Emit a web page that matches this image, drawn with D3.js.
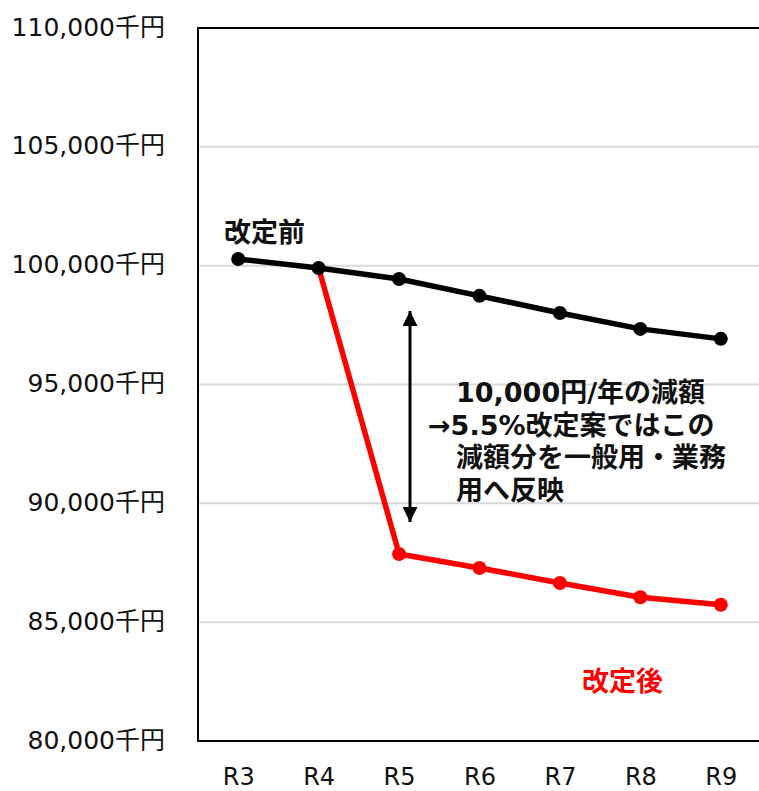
<!DOCTYPE html>
<html>
<head>
<meta charset="utf-8">
<script src="https://cdn.jsdelivr.net/npm/d3@7"></script>
<style>
  html, body { margin: 0; padding: 0; background: #ffffff; }
  svg { display: block; }
  text { font-family: "DejaVu Sans", "Noto Sans CJK JP", sans-serif; }
</style>
</head>
<body>
<svg id="chart" width="759" height="791"></svg>
<script>
// Fiscal years (Reiwa)
const years = ["R3", "R4", "R5", "R6", "R7", "R8", "R9"];
// Revenue before the revision (thousand yen)
const beforeValues = [100280, 99900, 99440, 98730, 98010, 97340, 96920];
// Revenue after the revision (thousand yen); starts from R4
const afterYears = ["R4", "R5", "R6", "R7", "R8", "R9"];
const afterValues = [99900, 87870, 87280, 86650, 86050, 85730];
// Y axis ticks
const yTicks = [80000, 85000, 90000, 95000, 100000, 105000, 110000];
const yUnit = "千円";
// Annotation
const noteLines = ["10,000円/年の減額", "→5.5%改定案ではこの", "減額分を一般用・業務", "用へ反映"];
const labelBefore = "改定前";
const labelAfter = "改定後";

const svg = d3.select("#chart");
const plotLeft = 198, plotRight = 761, plotTop = 28, plotBottom = 741;

const x = d3.scalePoint().domain(years).range([plotLeft, plotRight]).padding(0.5);
const y = d3.scaleLinear().domain([80000, 110000]).range([plotBottom, plotTop]);

// Horizontal gridlines
svg.append("g").selectAll("line")
  .data(yTicks.filter(d => d > 80000 && d < 110000))
  .join("line")
  .attr("x1", plotLeft).attr("x2", plotRight)
  .attr("y1", d => y(d)).attr("y2", d => y(d))
  .attr("stroke", "#d9d9d9").attr("stroke-width", 2);

// Plot frame
svg.append("rect")
  .attr("x", plotLeft).attr("y", plotTop)
  .attr("width", plotRight - plotLeft).attr("height", plotBottom - plotTop)
  .attr("fill", "none").attr("stroke", "#000").attr("stroke-width", 2);

// Y axis labels
const fmt = d3.format(",");
const yAxis = d3.axisLeft(y).tickValues(yTicks).tickSize(0).tickPadding(33)
  .tickFormat(d => fmt(d) + yUnit);
const gy = svg.append("g").attr("transform", `translate(${plotLeft},0)`).call(yAxis);
gy.select(".domain").remove();
gy.selectAll("text")
  .attr("font-family", "\"DejaVu Sans\", \"Noto Sans CJK JP\", sans-serif")
  .attr("font-size", 25).attr("fill", "#111").attr("dy", "0.28em");

// X axis labels
const xAxis = d3.axisBottom(x).tickSize(0).tickPadding(0);
const gx = svg.append("g").attr("transform", `translate(0,${plotBottom})`).call(xAxis);
gx.select(".domain").remove();
gx.selectAll("text")
  .attr("font-family", "\"DejaVu Sans\", \"Noto Sans CJK JP\", sans-serif")
  .attr("font-size", 24).attr("fill", "#111")
  .attr("y", 44).attr("dy", 0);

const line = d3.line().x(d => x(d[0])).y(d => y(d[1]));
const afterData = afterYears.map((yr, i) => [yr, afterValues[i]]);
const beforeData = years.map((yr, i) => [yr, beforeValues[i]]);

// Revised series (red)
svg.append("path").datum(afterData)
  .attr("d", line).attr("fill", "none")
  .attr("stroke", "#ff0000").attr("stroke-width", 5.5).attr("stroke-linejoin", "round");
svg.append("g").selectAll("circle").data(afterData.slice(1)).join("circle")
  .attr("cx", d => x(d[0])).attr("cy", d => y(d[1])).attr("r", 7)
  .attr("fill", "#ff0000");

// Current series (black)
svg.append("path").datum(beforeData)
  .attr("d", line).attr("fill", "none")
  .attr("stroke", "#000").attr("stroke-width", 5.5).attr("stroke-linejoin", "round");
svg.append("g").selectAll("circle").data(beforeData).join("circle")
  .attr("cx", d => x(d[0])).attr("cy", d => y(d[1])).attr("r", 7)
  .attr("fill", "#000");

// Double-headed arrow marking the gap
const defs = svg.append("defs");
defs.append("marker").attr("id", "ah")
  .attr("viewBox", "0 0 10 10").attr("refX", 10).attr("refY", 5)
  .attr("markerUnits", "userSpaceOnUse")
  .attr("markerWidth", 18).attr("markerHeight", 15)
  .attr("orient", "auto-start-reverse")
  .append("path").attr("d", "M0,0 L10,5 L0,10 Z").attr("fill", "#000");
svg.append("line")
  .attr("x1", 410).attr("x2", 410)
  .attr("y1", 311).attr("y2", 522)
  .attr("stroke", "#000").attr("stroke-width", 3)
  .attr("marker-start", "url(#ah)").attr("marker-end", "url(#ah)");

// Annotation text
const note = svg.append("g")
  .attr("font-family", "\"DejaVu Sans\", \"Noto Sans CJK JP\", sans-serif")
  .attr("font-weight", "bold").attr("font-size", 27).attr("fill", "#111");
noteLines.forEach((t, i) => {
  note.append("text")
    .attr("x", t.startsWith("→") ? 428 : 456)
    .attr("y", 402 + i * 32.7)
    .text(t);
});

// Series labels
svg.append("text").attr("x", 224).attr("y", 242)
  .attr("font-weight", "bold").attr("font-size", 27).attr("fill", "#111")
  .text(labelBefore);
svg.append("text").attr("x", 582).attr("y", 691)
  .attr("font-weight", "bold").attr("font-size", 27).attr("fill", "#ff0000")
  .text(labelAfter);
</script>
</body>
</html>
